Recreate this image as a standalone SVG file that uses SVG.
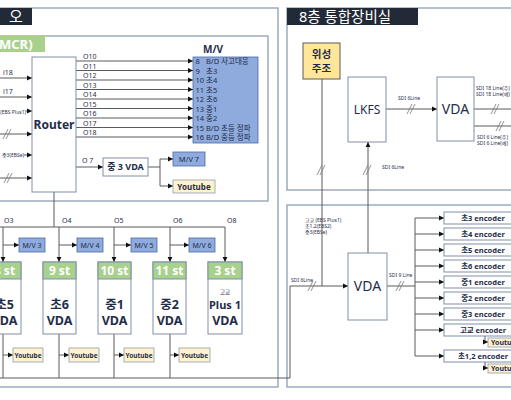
<svg xmlns="http://www.w3.org/2000/svg" width="511" height="400" viewBox="0 0 511 400">
<defs>
<marker id="ah" markerWidth="6" markerHeight="6" refX="5" refY="3" orient="auto" markerUnits="userSpaceOnUse"><path d="M0,0.6 L5,3 L0,5.4 z" fill="#111"/></marker>
<style>
text{font-family:"Noto Sans","Noto Sans CJK KR",sans-serif;fill:#1f2d4a}
.ln{stroke:#5a5a5a;stroke-width:1;fill:none}
.ar{stroke:#5a5a5a;stroke-width:1;fill:none;marker-end:url(#ah)}
.pb{stroke:#8c9db5;stroke-width:1.3;fill:none}
.ttl{fill:#222a38}
.tw{fill:#fff}
.sl{stroke:#777;stroke-width:0.8;fill:none}
.bx{fill:#fff;stroke:#7f8fa8;stroke-width:1}
.mv{fill:#8faadc;stroke:#4a6aa8;stroke-width:0.8}
.yt{fill:#fff2cc;stroke:#8c9db5;stroke-width:0.8}
.gh{fill:#a9d18e;stroke:#7f8fa8;stroke-width:1}
.s5{font-size:5px}
.s7{font-size:7px}
.b{font-weight:bold}
.c{text-anchor:middle}
.e{text-anchor:end}
</style>
</defs>
<rect width="511" height="400" fill="#fff"/>

<g id="panels">
<rect class="pb" x="-5" y="8" width="283" height="379"/>
<rect class="ttl" x="-5" y="8" width="37" height="17"/>
<text class="tw" x="9" y="22" font-size="15">오</text>
<rect class="pb" x="-5" y="36" width="273" height="165"/>
<rect fill="#a9d18e" x="-5" y="36" width="50" height="16"/>
<text class="tw b" x="-1" y="49" font-size="13">MCR)</text>
<rect class="pb" x="287" y="8" width="240" height="182"/>
<rect class="ttl" x="287" y="8" width="131" height="17"/>
<text class="tw" x="299" y="22" font-size="14.5">8층 통합장비실</text>
<rect class="pb" x="287" y="205" width="240" height="182"/>
</g>

<g id="connectors">
<!-- router inputs -->
<path class="ar" d="M0 78H32"/><text class="s7" x="3" y="75">i18</text>
<path class="ar" d="M0 97H32"/><text class="s7" x="3" y="94">i17</text>
<path class="ar" d="M26 111H32"/><text class="s5 e" x="26" y="114">(EBS Plus1)</text>
<path class="ar" d="M0 134H32"/><path class="sl" d="M3 139L8 129M6 139L11 129"/>
<path class="ar" d="M24 155H32"/><text class="s5 e" x="24" y="157">중3(EBSe)</text>
<path class="ar" d="M0 178H32"/><path class="sl" d="M4 183L9 173M7 183L12 173"/>
<!-- O10..O18 -->
<path class="ar" d="M76 61H193"/><text class="s7" x="83" y="59">O10</text>
<path class="ar" d="M76 70.5H193"/><text class="s7" x="83" y="68.5">O11</text>
<path class="ar" d="M76 80H193"/><text class="s7" x="83" y="78">O12</text>
<path class="ar" d="M76 89.5H193"/><text class="s7" x="83" y="87.5">O13</text>
<path class="ar" d="M76 99H193"/><text class="s7" x="83" y="97">O14</text>
<path class="ar" d="M76 108.5H193"/><text class="s7" x="83" y="106.5">O15</text>
<path class="ar" d="M76 118H193"/><text class="s7" x="83" y="116">O16</text>
<path class="ar" d="M76 127.5H193"/><text class="s7" x="83" y="125.5">O17</text>
<path class="ar" d="M76 137H193"/><text class="s7" x="83" y="135">O18</text>
<!-- O7 -->
<path class="ar" d="M76 167H103"/><text class="s7" x="82" y="163">O 7</text>
<path class="ln" d="M148 167H160M160 159V186"/>
<path class="ar" d="M160 159H173"/>
<path class="ar" d="M160 186H173"/>
<!-- bus to stations -->
<path class="ln" d="M54 192V227M0 227H225"/>
<text class="s7" x="4" y="223">O3</text>
<text class="s7" x="62" y="223">O4</text>
<text class="s7" x="114" y="223">O5</text>
<text class="s7" x="173" y="223">O6</text>
<text class="s7" x="227" y="223">O8</text>
<path class="ar" d="M3 227V262"/>
<path class="ar" d="M59 227V262"/>
<path class="ar" d="M114 227V262"/>
<path class="ar" d="M170 227V262"/>
<path class="ar" d="M225 227V262"/>
<path class="ar" d="M3 245H19"/>
<path class="ar" d="M59 245H77"/>
<path class="ar" d="M114 245H131"/>
<path class="ar" d="M170 245H189"/>
<path class="ln" d="M3 334V378M59 334V378M114 334V378M170 334V378"/>
<path class="ar" d="M3 355H13"/>
<path class="ar" d="M59 355H69"/>
<path class="ar" d="M114 355H124"/>
<path class="ar" d="M170 355H179"/>
<path class="ln" d="M0 378H290V286"/>
<path class="ar" d="M290 286H348"/>
<text class="s5" x="291" y="282">SDI 6Line</text>
<path class="sl" d="M308 291L313 281M311 291L316 281"/>
<text class="s5" x="305" y="222">고교 (EBS Plus1)</text>
<text class="s5" x="305" y="228">초1,2(EBS2)</text>
<text class="s5" x="305" y="234">중3(EBSe)</text>
<!-- 8F room -->
<path class="ln" d="M322 79V286"/>
<path class="sl" d="M317 175L322 165M320 175L325 165"/>
<path class="ar" d="M368 253V142"/>
<path class="sl" d="M363 175L368 165M366 175L371 165"/>
<text class="s5" x="382" y="169">SDI 6Line</text>
<path class="ar" d="M386 109H437"/>
<text class="s5" x="398" y="100">SDI 6Line</text>
<path class="sl" d="M407 114L412 104M410 114L415 104"/>
<path class="ln" d="M474 109H515M474 126H515"/>
<path class="sl" d="M491 114L496 104M494 114L499 104"/>
<path class="sl" d="M496 131L501 121M499 131L504 121"/>
<text class="s5" x="476" y="90">SDI 18 Line(주)</text>
<text class="s5" x="476" y="96">SDI 18 Line(예)</text>
<text class="s5" x="477" y="139">SDI 6 Line(주)</text>
<text class="s5" x="477" y="145">SDI 6 Line(예)</text>
<!-- encoders -->
<path class="ln" d="M387 286H415M415 218V356"/>
<text class="s5" x="389" y="277">SDI 9 Line</text>
<path class="sl" d="M396 291L401 281M399 291L404 281"/>
<path class="ar" d="M415 218H444"/>
<path class="ar" d="M415 234H444"/>
<path class="ar" d="M415 250H444"/>
<path class="ar" d="M415 266H444"/>
<path class="ar" d="M415 282H444"/>
<path class="ar" d="M415 298H444"/>
<path class="ar" d="M415 314H444"/>
<path class="ar" d="M415 330H444"/>
<path class="ar" d="M415 356H444"/>
<path class="ln" d="M485 336V342"/><path class="ar" d="M485 342H488"/>
<path class="ln" d="M485 362V368"/><path class="ar" d="M485 368H488"/>
</g>

<g id="router"><rect class="bx" x="32" y="57" width="44" height="135" stroke="#5a5a5a"/><text class="b c" x="54" y="129" font-size="12">Router</text></g>

<g id="mv">
<text class="b c" x="213" y="53" font-size="10">M/V</text>
<rect class="mv" x="193" y="57" width="65" height="86"/>
<g font-size="7.5">
<text x="195.5" y="64">8</text><text x="206" y="64">B/D 사고대응</text>
<text x="195.5" y="73.5">9</text><text x="206" y="73.5">초3</text>
<text x="195.5" y="83">10</text><text x="206" y="83">초4</text>
<text x="195.5" y="92.5">11</text><text x="206" y="92.5">초5</text>
<text x="195.5" y="102">12</text><text x="206" y="102">초6</text>
<text x="195.5" y="111.5">13</text><text x="206" y="111.5">중1</text>
<text x="195.5" y="121">14</text><text x="206" y="121">중2</text>
<text x="195.5" y="130.5">15</text><text x="206" y="130.5">B/D 초등 정파</text>
<text x="195.5" y="140">16</text><text x="206" y="140">B/D 중등 정파</text>
</g>
</g>

<g id="vda3"><rect class="bx" x="103" y="158" width="45" height="18"/><text class="b c" x="125.5" y="170" font-size="9">중 3 VDA</text></g>
<g id="mv7"><rect class="mv" x="173" y="152" width="32" height="14"/><text class="c" x="189" y="162" font-size="7.5">M/V 7</text></g>
<g id="yt7"><rect class="yt" x="173" y="180" width="42" height="13"/><text class="b c" x="194" y="190" font-size="8">Youtube</text></g>

<g id="mv3"><rect class="mv" x="19" y="238" width="26" height="14"/><text class="c" x="32" y="248" font-size="7">M/V 3</text></g>
<g id="mv4"><rect class="mv" x="77" y="238" width="26" height="14"/><text class="c" x="90" y="248" font-size="7">M/V 4</text></g>
<g id="mv5"><rect class="mv" x="131" y="238" width="26" height="14"/><text class="c" x="144" y="248" font-size="7">M/V 5</text></g>
<g id="mv6"><rect class="mv" x="189" y="238" width="26" height="14"/><text class="c" x="202" y="248" font-size="7">M/V 6</text></g>

<g id="st8"><rect class="bx" x="-12" y="262" width="33" height="72"/><rect class="gh" x="-12" y="262" width="33" height="17"/><text class="tw b c" x="4.5" y="275" font-size="12">8 st</text><text class="b c" x="4.5" y="309" font-size="12.5">초5</text><text class="b c" x="4.5" y="325" font-size="12.5">VDA</text></g>
<g id="st9"><rect class="bx" x="43" y="262" width="33" height="72"/><rect class="gh" x="43" y="262" width="33" height="17"/><text class="tw b c" x="59.5" y="275" font-size="12">9 st</text><text class="b c" x="59.5" y="309" font-size="12.5">초6</text><text class="b c" x="59.5" y="325" font-size="12.5">VDA</text></g>
<g id="st10"><rect class="bx" x="98" y="262" width="33" height="72"/><rect class="gh" x="98" y="262" width="33" height="17"/><text class="tw b c" x="114.5" y="275" font-size="12">10 st</text><text class="b c" x="114.5" y="309" font-size="12.5">중1</text><text class="b c" x="114.5" y="325" font-size="12.5">VDA</text></g>
<g id="st11"><rect class="bx" x="153" y="262" width="33" height="72"/><rect class="gh" x="153" y="262" width="33" height="17"/><text class="tw b c" x="169.5" y="275" font-size="12">11 st</text><text class="b c" x="169.5" y="309" font-size="12.5">중2</text><text class="b c" x="169.5" y="325" font-size="12.5">VDA</text></g>
<g id="st3"><rect class="bx" x="208" y="262" width="34" height="72"/><rect class="gh" x="208" y="262" width="34" height="17"/><text class="tw b c" x="225" y="275" font-size="12">3 st</text><text class="c" x="225" y="294" font-size="5.5">고교</text><text class="b c" x="225" y="309" font-size="11">Plus 1</text><text class="b c" x="225" y="325" font-size="12.5">VDA</text></g>

<g id="yt8"><rect class="yt" x="13" y="348" width="30" height="14"/><text class="b c" x="28" y="357.5" font-size="6.5">Youtube</text></g>
<g id="yt9"><rect class="yt" x="69" y="348" width="30" height="14"/><text class="b c" x="84" y="357.5" font-size="6.5">Youtube</text></g>
<g id="yt10"><rect class="yt" x="124" y="348" width="30" height="14"/><text class="b c" x="139" y="357.5" font-size="6.5">Youtube</text></g>
<g id="yt11"><rect class="yt" x="179" y="348" width="31" height="14"/><text class="b c" x="194.5" y="357.5" font-size="6.5">Youtube</text></g>

<g id="sat"><rect x="303" y="43" width="37" height="36" fill="#ffe699" stroke="#5a5a5a"/><text class="b c" x="321.5" y="58" font-size="10.5">위성</text><text class="b c" x="321.5" y="72" font-size="10.5">주조</text></g>
<g id="lkfs"><rect class="bx" x="348" y="77" width="38" height="65" stroke="#4a5d78"/><text class="c" x="367" y="114" font-size="12">LKFS</text></g>
<g id="vdaU"><rect class="bx" x="437" y="77" width="37" height="64" stroke="#4a5d78"/><text class="c" x="455.5" y="114" font-size="14">VDA</text></g>
<g id="vdaL"><rect class="bx" x="348" y="253" width="39" height="67" stroke="#4a5d78"/><text class="c" x="367.5" y="291" font-size="14">VDA</text></g>

<g id="encoders" font-size="7.5">
<rect class="bx" x="444" y="212" width="80" height="12"/><text class="b c" x="483" y="220.5">초3 encoder</text>
<rect class="bx" x="444" y="228" width="80" height="12"/><text class="b c" x="483" y="236.5">초4 encoder</text>
<rect class="bx" x="444" y="244" width="80" height="12"/><text class="b c" x="483" y="252.5">초5 encoder</text>
<rect class="bx" x="444" y="260" width="80" height="12"/><text class="b c" x="483" y="268.5">초6 encoder</text>
<rect class="bx" x="444" y="276" width="80" height="12"/><text class="b c" x="483" y="284.5">중1 encoder</text>
<rect class="bx" x="444" y="292" width="80" height="12"/><text class="b c" x="483" y="300.5">중2 encoder</text>
<rect class="bx" x="444" y="308" width="80" height="12"/><text class="b c" x="483" y="316.5">중3 encoder</text>
<rect class="bx" x="444" y="324" width="80" height="12"/><text class="b c" x="483" y="332.5">고교 encoder</text>
<rect class="bx" x="444" y="350" width="80" height="12"/><text class="b c" x="483" y="358.5">초1,2 encoder</text>
<rect class="yt" x="488" y="338" width="40" height="9"/><text class="b" x="491" y="345" font-size="7">Youtube</text>
<rect class="yt" x="488" y="364" width="40" height="9"/><text class="b" x="491" y="371" font-size="7">Youtube</text>
</g>
</svg>
